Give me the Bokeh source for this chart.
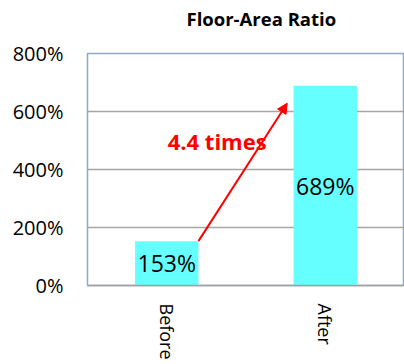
import math
from bokeh.plotting import figure
from bokeh.core.properties import value
from bokeh.models import (ColumnDataSource, LabelSet, Label, Arrow, NormalHead, Title,
                          FixedTicker, PrintfTickFormatter, Range1d)
from bokeh.embed import file_html
from bokeh.resources import INLINE

categories = ["Before", "After"]
values = [153, 689]
labels = ["153%", "689%"]
y_ticks = [0, 200, 400, 600, 800]
ratio_text = "4.4 times"
title_text = "Floor-Area Ratio"

src = ColumnDataSource(dict(cat=categories, val=values, half=[v / 2 for v in values], lab=labels))

p = figure(x_range=categories, y_range=Range1d(0, 800), width=404, height=364,
           output_backend="svg", toolbar_location=None,
           min_border_left=87, min_border_right=0, min_border_bottom=79, min_border_top=53)

# spacer between the frame and the title
p.add_layout(Title(text=" ", text_font_size="16px", standoff=0), "above")
p.add_layout(Title(text=title_text, align="left", offset=99, standoff=7,
                   text_font="Open Sans", text_font_style="bold", text_font_size="18.5px",
                   text_color="black"), "above")

p.vbar(x="cat", top="val", width=0.4, source=src, fill_color="#66ffff", line_color=None)

p.add_layout(LabelSet(x="cat", y="half", text="lab", source=src, text_align="center",
                      text_baseline="middle", text_font=value("Open Sans"), text_font_size="23px",
                      text_color="black"))

x0 = 0.5 + 0.2
x1 = 1.5 - 0.24
p.add_layout(Arrow(end=NormalHead(size=10, fill_color="red", line_color="red"),
                   x_start=x0, y_start=values[0], x_end=x1, y_end=values[1] * 0.912,
                   line_color="red", line_width=2))
p.add_layout(Label(x=0.818, y=497, text=ratio_text, text_align="center", text_baseline="middle",
                   text_color="red", text_font="Open Sans", text_font_style="bold",
                   text_font_size="22px"))

p.yaxis.ticker = FixedTicker(ticks=y_ticks)
p.yaxis.formatter = PrintfTickFormatter(format="%d%%")
p.yaxis.axis_line_color = None
p.yaxis.major_tick_line_color = None
p.yaxis.minor_tick_line_color = None
p.yaxis.major_label_text_font = "Open Sans"
p.yaxis.major_label_text_font_size = "20px"
p.yaxis.major_label_text_color = "black"
p.yaxis.major_label_standoff = 18

p.xaxis.axis_line_color = "#a0a0a0"
p.xaxis.axis_line_width = 1.5
p.xaxis.major_tick_line_color = None
p.xaxis.minor_tick_line_color = None
p.xaxis.major_label_orientation = -math.pi / 2
p.xaxis.major_label_text_font = "Open Sans"
p.xaxis.major_label_text_font_size = "18px"
p.xaxis.major_label_text_color = "black"
p.xaxis.major_label_standoff = 12

p.xgrid.grid_line_color = None
p.ygrid.grid_line_color = "#a6a6a6"
p.ygrid.grid_line_width = 1.5
p.outline_line_color = "#8fa8c8"
p.outline_line_width = 1.5

open("out.html", "w").write(file_html(p, INLINE))
